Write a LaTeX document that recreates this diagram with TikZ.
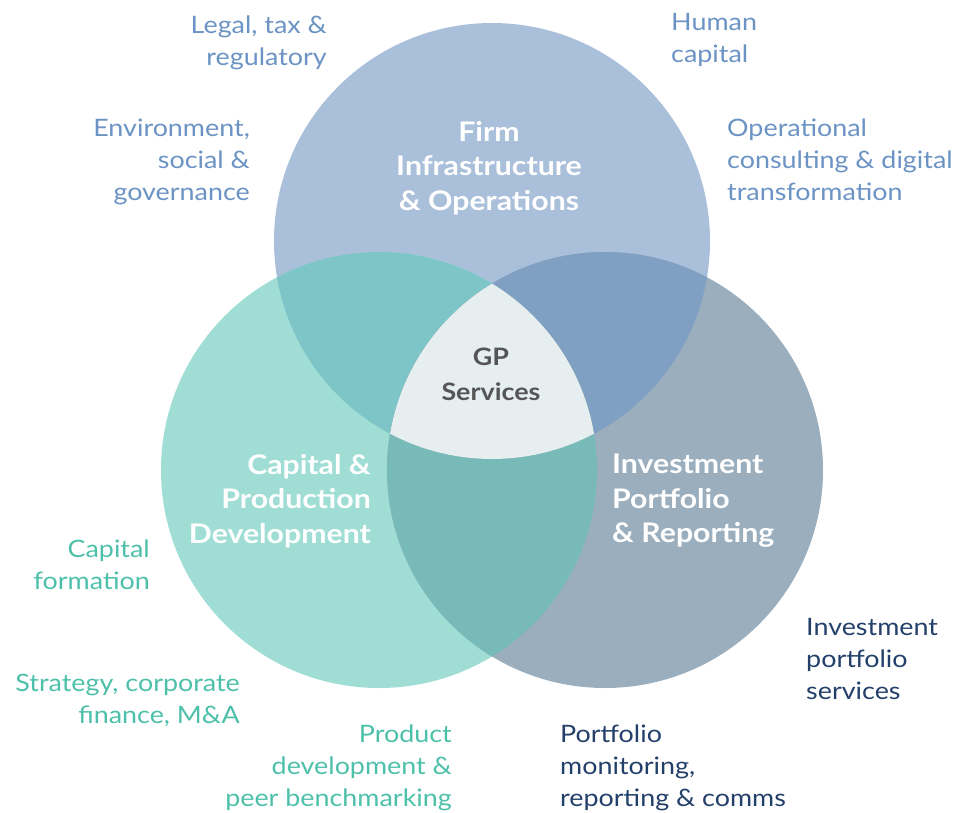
\documentclass[tikz,border=0pt]{standalone}
\usepackage{fontspec}
\setmainfont{Lato}[FakeStretch=1.12]
\begin{document}
\begin{tikzpicture}[x=1pt,y=-1pt]
% circle fills and their overlaps
\definecolor{infra}{HTML}{AAC0DA}
\definecolor{capital}{HTML}{A0DED5}
\definecolor{invest}{HTML}{9AAEBE}
\definecolor{infracap}{HTML}{7DC5C6}
\definecolor{infrainv}{HTML}{7FA0C2}
\definecolor{capinv}{HTML}{78BAB8}
\definecolor{core}{HTML}{E6EEF0}
% label colours
\definecolor{infratext}{HTML}{6B93C4}
\definecolor{captext}{HTML}{4DC0AA}
\definecolor{invtext}{HTML}{23406A}
\definecolor{coretext}{HTML}{555555}
\tikzset{
  label/.style={inner sep=0pt, font=\fontsize{24}{32}\selectfont},
  rlabel/.style={label, align=right, anchor=north east},
  llabel/.style={label, align=left, anchor=north west},
  title/.style={inner sep=0pt, text=white, font=\bfseries\fontsize{27}{34.5}\selectfont},
}
\useasboundingbox (0,0) rectangle (959,812);
\coordinate (T) at (492,241);
\coordinate (L) at (379,470);
\coordinate (R) at (605,470);
\def\rad{218pt}
% base circles
\fill[infra] (T) circle[radius=\rad];
\fill[capital] (L) circle[radius=\rad];
\fill[invest] (R) circle[radius=\rad];
% pairwise overlaps
\begin{scope}
  \clip (T) circle[radius=\rad];
  \fill[infracap] (L) circle[radius=\rad];
  \fill[infrainv] (R) circle[radius=\rad];
\end{scope}
\begin{scope}
  \clip (L) circle[radius=\rad];
  \fill[capinv] (R) circle[radius=\rad];
\end{scope}
% soft shadow under the common core
\foreach \d/\o in {5/0.04,3.5/0.05,2/0.06}{
  \begin{scope}[yshift=-\d pt]
    \clip (T) circle[radius=\rad];
    \clip (L) circle[radius=\rad];
    \fill[black, opacity=\o] (R) circle[radius=\rad];
  \end{scope}
}
% common core
\begin{scope}
  \clip (T) circle[radius=\rad];
  \clip (L) circle[radius=\rad];
  \fill[core] (R) circle[radius=\rad];
\end{scope}

% circle titles
\node[title, align=center, anchor=north] (infraT) at (489,121) {Firm\\Infrastructure\\\& Operations};
\node[title, align=right, anchor=north east] (capT) at (371,454) {Capital \&\\Production\\Development};
\node[title, align=left, anchor=north west] (invT) at (612,454) {Investment\\Portfolio\\\& Reporting};
\node[inner sep=0pt, text=coretext, align=center, anchor=north, font=\bfseries\fontsize{24}{35}\selectfont] (coreT) at (491,348) {GP\\Services};

% surrounding service labels
\node[rlabel, text=infratext] (legal) at (327,16) {Legal, tax \&\\regulatory};
\node[llabel, text=infratext] (human) at (671,13) {Human\\capital};
\node[rlabel, text=infratext] (esg) at (250,119) {Environment,\\social \&\\governance};
\node[llabel, text=infratext] (ops) at (727,119) {Operational\\consulting \& digital\\transformation};
\node[rlabel, text=captext] (capf) at (150,540) {Capital\\formation};
\node[rlabel, text=captext] (strat) at (240,674) {Strategy, corporate\\finance, M\&A};
\node[rlabel, text=captext] (prod) at (452,725) {Product\\development \&\\peer benchmarking};
\node[llabel, text=invtext] (ips) at (806,618) {Investment\\portfolio\\services};
\node[llabel, text=invtext] (pmr) at (560,725) {Portfolio\\monitoring,\\reporting \& comms};
\end{tikzpicture}
\end{document}
